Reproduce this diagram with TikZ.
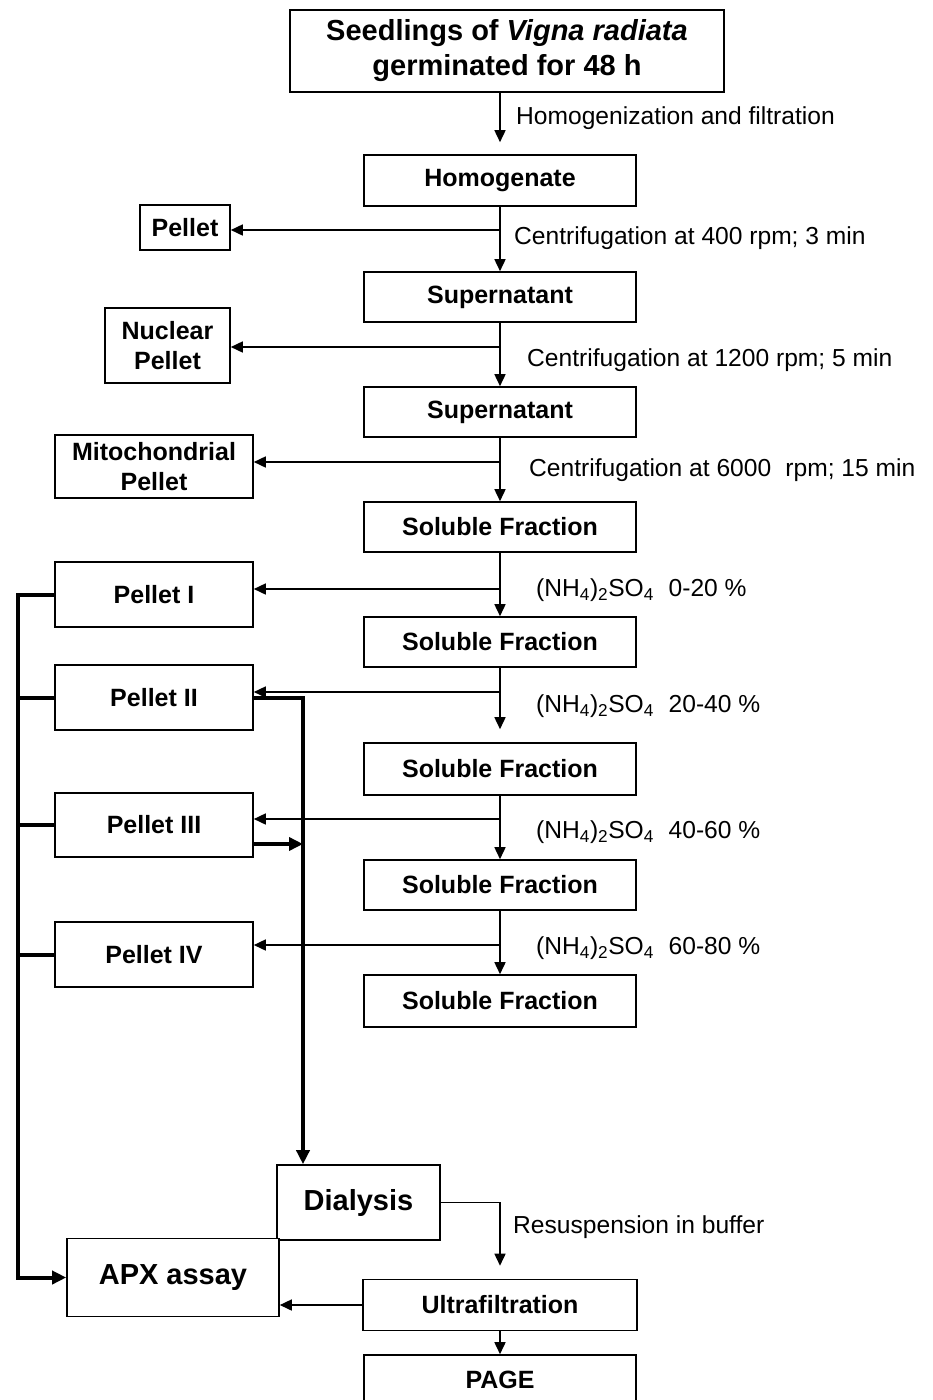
\documentclass[tikz,border=0pt]{standalone}
\usepackage{fontspec}
\setmainfont{Liberation Sans}
\usetikzlibrary{arrows.meta}
\tikzset{
  box/.style={draw, line width=1.6pt, fill=white, inner sep=0pt, align=center,
    font=\fontsize{25}{30}\selectfont\bfseries},
  bigbox/.style={box, font=\fontsize{29}{35}\selectfont\bfseries},
  lbl/.style={anchor=west, inner sep=0pt, font=\fontsize{24.6}{28}\selectfont},
  arr/.style={line width=1.6pt, -{Triangle[length=12pt,width=11pt]}},
  thk/.style={line width=4pt},
  thkarr/.style={line width=4pt, -{Triangle[length=14pt,width=13pt]}},
}
\begin{document}
\begin{tikzpicture}[x=1pt,y=-1pt]
\useasboundingbox (0,0) rectangle (933,1400);

% main column
\node[bigbox, minimum width=434, minimum height=82] (seed) at (507,51) {Seedlings of \textit{Vigna radiata}\\germinated for 48 h};
\node[box, minimum width=272, minimum height=51] (homog) at (500,180.5) {Homogenate};
\node[box, minimum width=272, minimum height=50] (sup1) at (500,297) {Supernatant};
\node[box, minimum width=272, minimum height=50] (sup2) at (500,412) {Supernatant};
\node[box, minimum width=272, minimum height=50] (sf1) at (500,527) {Soluble Fraction};
\node[box, minimum width=272, minimum height=50] (sf2) at (500,642) {Soluble Fraction};
\node[box, minimum width=272, minimum height=52] (sf3) at (500,769) {Soluble Fraction};
\node[box, minimum width=272, minimum height=50] (sf4) at (500,885) {Soluble Fraction};
\node[box, minimum width=272, minimum height=52] (sf5) at (500,1001) {Soluble Fraction};

% pellets
\node[box, minimum width=90, minimum height=45] (p0) at (185,227.5) {Pellet};
\node[box, minimum width=125, minimum height=75] (nuc) at (167.5,345.5) {Nuclear\\Pellet};
\node[box, minimum width=198, minimum height=63] (mito) at (154,466.5) {Mitochondrial\\Pellet};
\node[box, minimum width=198, minimum height=65] (pI) at (154,594.5) {Pellet I};
\node[box, minimum width=198, minimum height=65] (pII) at (154,697.5) {Pellet II};
\node[box, minimum width=198, minimum height=64] (pIII) at (154,825) {Pellet III};
\node[box, minimum width=198, minimum height=65] (pIV) at (154,954.5) {Pellet IV};

% bottom
\node[bigbox, minimum width=163, minimum height=75] (dial) at (358.5,1202.5) {Dialysis};
\node[bigbox, minimum width=212, minimum height=78] (apx) at (173,1277.5) {APX assay};
\node[box, minimum width=274, minimum height=51] (ultra) at (500,1305) {Ultrafiltration};
\node[box, minimum width=272, minimum height=50] (page) at (500,1380) {PAGE};

% labels
\node[lbl] (l0) at (516,118) {Homogenization and filtration};
\node[lbl] (l1) at (514,238) {Centrifugation at 400 rpm; 3 min};
\node[lbl] (l2) at (527,360) {Centrifugation at 1200 rpm; 5 min};
\node[lbl] (l3) at (529,470) {Centrifugation at 6000\hspace{0.3em} rpm; 15 min};
\node[lbl] (l4) at (536,590) {(NH\textsubscript{4})\textsubscript{2}SO\textsubscript{4}\hspace{0.6em}0-20 \%};
\node[lbl] (l5) at (536,706) {(NH\textsubscript{4})\textsubscript{2}SO\textsubscript{4}\hspace{0.6em}20-40 \%};
\node[lbl] (l6) at (536,832) {(NH\textsubscript{4})\textsubscript{2}SO\textsubscript{4}\hspace{0.6em}40-60 \%};
\node[lbl] (l7) at (536,948) {(NH\textsubscript{4})\textsubscript{2}SO\textsubscript{4}\hspace{0.6em}60-80 \%};
\node[lbl] (l8) at (513,1227) {Resuspension in buffer};

% branch points
\coordinate (b0) at (500,230);
\coordinate (b1) at (500,347);
\coordinate (b2) at (500,462);
\coordinate (b3) at (500,589);
\coordinate (b4) at (500,692);
\coordinate (b5) at (500,819);
\coordinate (b6) at (500,945);
\coordinate (lbus) at (18,0);
\coordinate (rbus) at (303,0);
\coordinate (p3o) at ([yshift=-19pt]pIII.east);

% main arrows
\draw[arr, shorten >=12pt] (homog.north |- seed.south) -- (homog.north);
\draw[arr] (homog.south) -- (sup1.north);
\draw[arr] (sup1.south) -- (sup2.north);
\draw[arr] (sup2.south) -- (sf1.north);
\draw[arr] (sf1.south) -- (sf2.north);
\draw[arr, shorten >=13pt] (sf2.south) -- (sf3.north);
\draw[arr] (sf3.south) -- (sf4.north);
\draw[arr] (sf4.south) -- (sf5.north);

% branches to pellets
\draw[arr] (b0) -- (p0.east |- b0);
\draw[arr] (b1) -- (nuc.east |- b1);
\draw[arr] (b2) -- (mito.east |- b2);
\draw[arr] (b3) -- (pI.east |- b3);
\draw[arr] (b4) -- (pII.east |- b4);
\draw[arr] (b5) -- (pIII.east |- b5);
\draw[arr] (b6) -- (pIV.east |- b6);

% left bus to APX assay
\draw[thk] (pII.west) -- (lbus |- pII.west);
\draw[thk] (pIII.west) -- (lbus |- pIII.west);
\draw[thk] (pIV.west) -- (lbus |- pIV.west);
\draw[thkarr] (pI.west) -- (lbus |- pI.west) -- (lbus |- apx.west) -- (apx.west);

% right bus to dialysis
\draw[thkarr] (pII.east) -- (rbus |- pII.east) -- (rbus |- dial.north);
\draw[thkarr] (p3o) -- (rbus |- p3o);

% bottom flow
\draw[arr, shorten >=13pt] (dial.east) -- (ultra.north |- dial.east) -- (ultra.north);
\draw[arr] (ultra.west) -- (apx.east |- ultra.west);
\draw[arr] (ultra.south) -- (page.north);
\end{tikzpicture}
\end{document}
